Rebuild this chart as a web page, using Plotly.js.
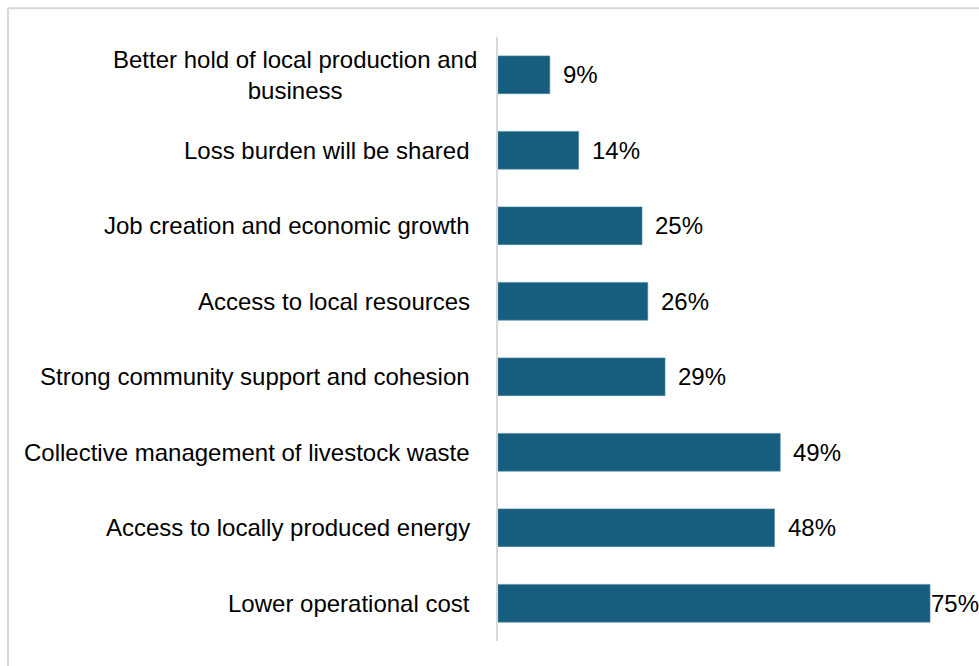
<!DOCTYPE html>
<html>
<head>
<meta charset="utf-8">
<script src="https://cdn.plot.ly/plotly-3.0.1.min.js"></script>
<style>
  html, body { margin: 0; padding: 0; background: #ffffff; }
  #chart { width: 979px; height: 666px; }
</style>
</head>
<body>
<div id="chart"></div>
<script>
// Categories listed top to bottom
const categories = [
  "Better hold of local production and<br>business",
  "Loss burden will be shared",
  "Job creation and economic growth",
  "Access to local resources",
  "Strong community support and cohesion",
  "Collective management of livestock waste",
  "Access to locally produced energy",
  "Lower operational cost"
];
const values = [9, 14, 25, 26, 29, 49, 48, 75];
const valueLabels = ["9%", "14%", "25%", "26%", "29%", "49%", "48%", "75%"];

const FONT = "Liberation Sans, Arial, sans-serif";
const FS = 24;
const barColor = "#175e7e";

const trace = {
  type: "bar",
  orientation: "h",
  y: categories,
  x: values,
  marker: { color: barColor, line: { color: "#4f88a3", width: 0.6 } },
  hoverinfo: "skip"
};

const maxVal = Math.max(...values);
const annotations = [];
categories.forEach((c, i) => {
  // category label
  annotations.push({
    xref: "x", yref: "y", x: 0, y: c,
    text: c, showarrow: false,
    xanchor: "right", yanchor: "middle",
    align: "center",
    xshift: i === 0 ? -19 : -26,
    font: { family: FONT, size: FS, color: "#000000" }
  });
  // value label
  annotations.push({
    xref: "x", yref: "y", x: values[i], y: c,
    text: valueLabels[i], showarrow: false,
    xanchor: "left", yanchor: "middle",
    xshift: values[i] === maxVal ? -1 : 11,
    font: { family: FONT, size: FS, color: "#000000" }
  });
});

const layout = {
  width: 979,
  height: 666,
  margin: { l: 498, r: 0, t: 37, b: 25 },
  paper_bgcolor: "#ffffff",
  plot_bgcolor: "#ffffff",
  showlegend: false,
  bargap: 0.5,
  font: { family: FONT, size: FS, color: "#000000" },
  xaxis: {
    range: [0, 83.5],
    visible: false,
    showgrid: false,
    zeroline: false,
    fixedrange: true
  },
  yaxis: {
    type: "category",
    autorange: "reversed",
    showticklabels: false,
    showgrid: false,
    zeroline: false,
    showline: true,
    linecolor: "#d9d9d9",
    linewidth: 2,
    ticks: "",
    fixedrange: true
  },
  annotations: annotations,
  shapes: [
    { type: "line", xref: "paper", yref: "paper",
      x0: -1.0187, x1: -1.0187, y0: 1.0476, y1: -0.1,
      line: { color: "#d9d9d9", width: 2 } },
    { type: "line", xref: "paper", yref: "paper",
      x0: -1.0187, x1: 1.1, y0: 1.0476, y1: 1.0476,
      line: { color: "#d9d9d9", width: 2 } }
  ]
};

Plotly.newPlot("chart", [trace], layout, { displayModeBar: false, staticPlot: true });
</script>
</body>
</html>
